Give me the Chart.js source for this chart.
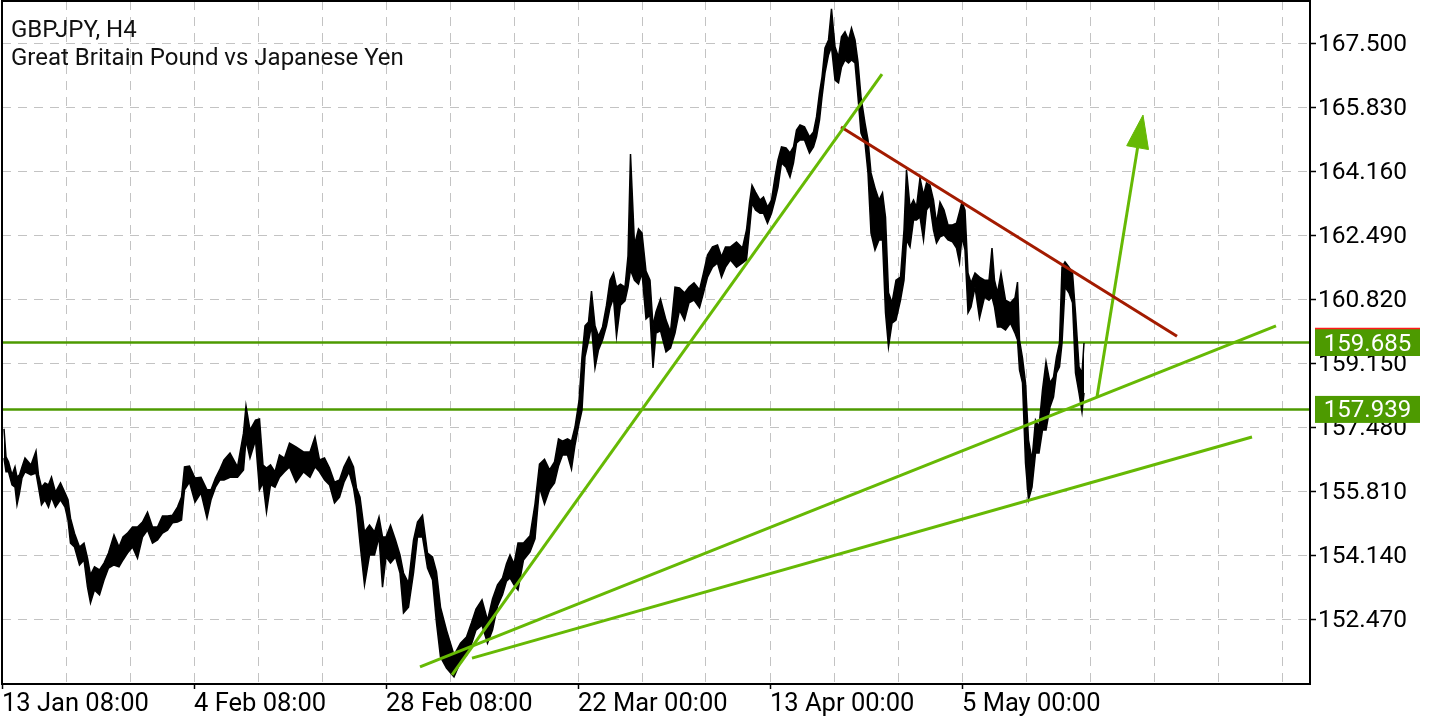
<!DOCTYPE html>
<html>
<head>
<meta charset="utf-8">
<title>GBPJPY, H4</title>
<script src="https://cdn.jsdelivr.net/npm/chart.js@4.4.1/dist/chart.umd.min.js"></script>
<style>
  html, body { margin: 0; padding: 0; background: #fff; }
  #wrap { width: 1440px; height: 720px; }
</style>
</head>
<body>
<div id="wrap"><canvas id="priceChart" width="1440" height="720"></canvas></div>
<script>
// Symbol info shown in the top-left corner
const symbolTitle = 'GBPJPY, H4';
const symbolName = 'Great Britain Pound vs Japanese Yen';

// Time axis: H4 bar number counted from 13 Jan 08:00, and the labelled bars
const labelBars = [0, 96, 192, 288, 384, 480];
const dateLabels = ['13 Jan 08:00', '4 Feb 08:00', '28 Feb 08:00', '22 Mar 00:00', '13 Apr 00:00', '5 May 00:00'];
const lastBar = 654;
const gridStep = 32;

// Price axis
const priceTicks = [152.470, 154.140, 155.810, 157.480, 159.150, 160.820, 162.490, 164.160, 165.830, 167.500];
const priceMin = 150.774;
const priceMax = 168.596;

// Price path: bar number, high and low of each short stretch
const barPos = [
  1, 2, 3.25, 5, 6.5, 7.5, 8.75, 10, 11.5, 14.5,
  17, 18.25, 19.75, 21.5, 23.25, 24.75, 26.75, 29.25, 31.5, 33,
  34.25, 36.25, 38.75, 41, 42.75, 44.25, 46.25, 48.75, 51, 53.25,
  56, 58.5, 60.5, 62.75, 65.25, 67.75, 70.25, 72.75, 75.25, 77.75,
  80.25, 82.75, 85.25, 87.75, 89.75, 91.25, 93.75, 96.5, 99.5, 102.5,
  104.5, 106.75, 109, 111, 114, 117.75, 120.75, 122, 124, 126.75,
  128.75, 130.5, 132.25, 134.25, 136.5, 138.75, 141.25, 143.75, 147, 150.75,
  154, 156.5, 158.75, 161.25, 163.75, 166.25, 168.75, 171, 173.5, 175.75,
  177.25, 179, 181.25, 183.75, 186.25, 188.5, 190.25, 192, 194.25, 196.75,
  199, 200.75, 203.25, 205.75, 207.75, 210.25, 212.75, 215.25, 217.25, 219.25,
  222.25, 226, 229.25, 232.25, 234.75, 237, 240, 242.75, 245.25, 247.75,
  250.25, 252.25, 254, 256, 258, 260.75, 264, 266.5, 268.75, 271.25,
  273.75, 276.25, 278.25, 280.25, 282.75, 284.75, 286.5, 288.5, 290, 291.5,
  293.25, 294.75, 296.5, 298.25, 300.25, 302.25, 304, 305.75, 307.25, 309.25,
  311.5, 313, 314.25, 316.25, 318.25, 320, 322, 324, 325.5, 327,
  329.25, 332, 334.25, 336.5, 338.75, 341.25, 343.5, 346, 348.75, 350.75,
  352.75, 355.25, 357.75, 359.75, 361.75, 364.25, 367.25, 370.25, 372.25, 373.75,
  375, 376.75, 379, 380.75, 382.75, 384.75, 386.5, 388, 389.75, 392,
  394, 395.75, 397.25, 399, 401.25, 403.75, 405.75, 407.25, 408.75, 410,
  411.5, 413.25, 414.75, 416.5, 418.25, 419.75, 421.5, 423.25, 424.75, 426.5,
  428, 429.5, 431.5, 433, 434.5, 436.5, 438.5, 440.25, 441.75, 443.25,
  445, 447, 449.25, 451, 452.25, 454, 455.75, 457.25, 459, 460.75,
  462.25, 464, 465.75, 467.25, 469, 471, 473, 475.25, 477.25, 478.75,
  480, 481.5, 483, 484.5, 486.5, 488.75, 491.25, 493.5, 495, 496.25,
  497.75, 499.5, 501.75, 504.25, 506.5, 507.75, 508.75, 510.25, 511.75, 513.25,
  515, 516.75, 518.5, 520.25, 522, 524, 525.75, 527.25, 528.75, 530,
  531.5, 533.5, 535.25, 536.75, 538.5, 540, 541
];
const highs = [
  157.43, 156.70, 156.57, 156.23, 156.44, 156.17, 156.23, 156.44, 156.67, 156.49,
  156.85, 156.23, 155.91, 156.02, 155.97, 156.17, 155.78, 156.02, 155.76, 155.58,
  155.10, 154.71, 154.35, 154.45, 154.06, 153.62, 153.83, 153.75, 153.93, 154.19,
  154.66, 154.35, 154.61, 154.71, 154.87, 154.87, 155.00, 155.26, 154.87, 154.87,
  155.16, 155.16, 155.18, 155.39, 155.65, 156.44, 156.46, 156.15, 156.17, 155.84,
  155.84, 156.15, 156.38, 156.62, 156.80, 156.44, 157.32, 158.03, 157.40, 157.66,
  157.69, 156.49, 156.41, 156.49, 156.31, 156.75, 156.67, 157.06, 156.96, 156.83,
  156.83, 157.22, 156.62, 156.67, 156.41, 156.04, 156.10, 156.44, 156.70, 156.44,
  155.89, 155.65, 154.74, 154.92, 154.74, 155.13, 154.61, 154.61, 154.92, 154.53,
  154.14, 153.67, 153.41, 154.53, 155.00, 155.18, 154.19, 154.09, 153.70, 152.78,
  152.18, 151.53, 151.84, 152.00, 152.37, 152.73, 152.97, 152.44, 152.99, 153.36,
  153.54, 153.91, 154.14, 153.91, 154.45, 154.45, 154.64, 155.47, 156.51, 156.64,
  156.36, 156.57, 157.17, 157.11, 157.17, 157.11, 157.48, 158.16, 159.31, 160.12,
  160.22, 161.03, 160.12, 159.85, 160.09, 160.66, 161.31, 161.50, 161.13, 161.21,
  161.13, 161.94, 164.60, 162.23, 162.65, 162.54, 161.55, 161.31, 160.12, 160.48,
  160.82, 160.27, 159.96, 161.13, 161.11, 160.98, 161.13, 161.24, 161.06, 161.50,
  161.97, 162.18, 162.23, 161.92, 162.18, 162.18, 162.31, 162.15, 162.62, 163.32,
  163.79, 163.61, 163.40, 163.48, 163.22, 163.40, 164.00, 164.45, 164.79, 164.76,
  164.63, 164.79, 165.23, 165.36, 165.31, 165.05, 165.18, 165.57, 166.20, 166.61,
  167.37, 167.58, 168.39, 167.40, 167.13, 167.66, 167.79, 167.58, 167.89, 167.58,
  167.00, 166.09, 165.41, 164.97, 164.11, 163.72, 163.40, 163.59, 162.96, 160.98,
  160.72, 161.31, 161.39, 162.62, 164.19, 163.22, 163.40, 163.22, 163.98, 163.53,
  163.85, 163.79, 163.40, 162.80, 163.35, 163.14, 162.75, 162.75, 162.80, 163.09,
  163.35, 163.14, 161.50, 161.24, 161.50, 161.39, 161.31, 161.31, 162.15, 161.31,
  160.98, 161.50, 160.79, 160.72, 160.85, 161.26, 159.75, 159.28, 158.63, 157.14,
  156.62, 157.66, 157.48, 158.45, 159.18, 158.63, 158.78, 159.31, 159.67, 161.65,
  161.79, 161.65, 161.50, 160.46, 159.05, 158.89, 159.67
];
const lows = [
  156.67, 156.31, 156.31, 155.97, 155.91, 155.45, 155.76, 156.15, 156.31, 156.23,
  156.28, 155.91, 155.45, 155.58, 155.39, 155.65, 155.39, 155.58, 155.39, 155.05,
  154.45, 154.35, 153.88, 154.01, 153.30, 152.89, 153.23, 153.10, 153.49, 153.80,
  153.88, 153.83, 154.01, 154.19, 154.35, 154.06, 154.61, 154.79, 154.45, 154.53,
  154.71, 154.79, 154.98, 155.00, 155.05, 155.84, 156.04, 155.52, 155.76, 155.10,
  155.58, 155.91, 156.10, 156.10, 156.17, 156.17, 156.36, 157.14, 156.67, 157.14,
  155.84, 156.02, 155.26, 155.97, 155.91, 156.17, 156.31, 156.44, 156.04, 156.31,
  156.17, 156.44, 156.31, 156.10, 155.97, 155.50, 155.65, 156.04, 156.31, 155.89,
  155.39, 154.45, 153.36, 154.14, 154.14, 154.61, 153.30, 154.09, 153.93, 154.09,
  153.67, 152.63, 152.78, 153.67, 154.61, 154.61, 153.80, 153.49, 152.37, 151.48,
  151.19, 150.96, 151.35, 151.53, 151.82, 152.18, 152.31, 151.84, 152.18, 152.81,
  153.10, 153.46, 153.54, 153.36, 153.23, 154.01, 154.22, 154.56, 155.91, 155.47,
  155.84, 156.02, 156.46, 156.75, 156.75, 156.38, 157.01, 157.56, 157.92, 159.31,
  159.72, 160.12, 159.02, 159.49, 159.75, 160.12, 160.59, 160.85, 159.85, 160.66,
  160.77, 161.13, 161.58, 161.31, 161.21, 161.50, 160.30, 160.40, 159.02, 159.93,
  159.99, 159.44, 159.54, 159.93, 160.53, 160.27, 160.72, 160.79, 160.59, 160.98,
  161.39, 161.65, 161.76, 161.39, 161.65, 161.84, 161.65, 161.76, 161.84, 162.62,
  163.32, 163.14, 163.06, 163.06, 162.80, 163.06, 163.40, 163.74, 164.37, 164.26,
  164.00, 164.37, 164.89, 164.97, 164.97, 164.63, 164.79, 165.05, 165.49, 166.09,
  166.72, 167.19, 167.40, 166.53, 166.46, 166.87, 167.06, 166.98, 167.06, 166.98,
  166.09, 165.15, 164.89, 164.11, 162.54, 162.10, 162.36, 162.36, 160.46, 159.57,
  160.19, 160.27, 160.79, 161.31, 162.36, 162.18, 162.88, 162.88, 162.96, 162.36,
  163.14, 163.27, 162.62, 162.28, 162.44, 162.49, 162.36, 162.31, 162.15, 161.76,
  162.44, 162.10, 160.46, 160.61, 161.13, 160.32, 160.87, 160.79, 160.87, 160.61,
  160.09, 160.09, 160.01, 160.19, 159.93, 159.75, 158.97, 158.63, 156.54, 155.58,
  155.91, 156.80, 156.80, 157.40, 157.40, 158.00, 158.26, 158.89, 159.05, 159.67,
  161.13, 160.98, 160.72, 158.89, 158.37, 157.87, 158.37
];

// Horizontal levels with their price boxes, and the ask mark
const levelPrices = [159.685, 157.939];
const askPrice = 160.06;

// Drawn lines as [bar, price] end points
const steepTrend = [[225, 151.01], [440, 166.69]];
const upperTrend = [[209, 151.22], [637, 160.12]];
const lowerTrend = [[235, 151.45], [625, 157.22]];
const resistance = [[419.5, 165.31], [587.5, 159.85]];
const arrowShaft = [[547.5, 158.26], [567.8, 164.77]];
const arrowHead = [[570.5, 165.62], [573.25, 164.72], [562.35, 164.82], [570.5, 165.62]];

const levelColor = '#4d9a00';
const trendColor = '#66b904';
const resistColor = '#a31b00';
const gridColor = '#c3c3c3';

// turn [bar, price] pairs into chart points
function toPoints(pairs) {
    return pairs.map(p => ({ x: p[0], y: p[1] }));
}

function lineSet(pairs, color, width, order) {
    return {
        data: toPoints(pairs),
        borderColor: color,
        borderWidth: width,
        pointRadius: 0,
        fill: false,
        tension: 0,
        order: order
    };
}

// Draw the plot frame, title, price boxes and ask mark
const overlayPlugin = {
    id: 'overlay',
    afterDraw(chart) {
        const ctx = chart.ctx;
        const area = chart.chartArea;
        const yScale = chart.scales.y;
        ctx.save();

        ctx.strokeStyle = '#000';
        ctx.lineWidth = 2;
        ctx.strokeRect(area.left, area.top, area.right - area.left, area.bottom - area.top);

        ctx.fillStyle = '#111';
        ctx.font = '24px Roboto';
        ctx.textAlign = 'left';
        ctx.textBaseline = 'alphabetic';
        ctx.fillText(symbolTitle, 11, 37);
        ctx.fillText(symbolName, 11, 65);

        // price boxes on the axis
        ctx.font = '24px Roboto';
        ctx.textAlign = 'center';
        ctx.textBaseline = 'middle';
        levelPrices.forEach(price => {
            const py = yScale.getPixelForValue(price);
            ctx.fillStyle = levelColor;
            ctx.fillRect(area.right + 5, py - 13.5, 105, 27);
            ctx.fillStyle = '#fff';
            ctx.fillText(price.toFixed(3), area.right + 57.5, py + 2);
        });

        const askY = Math.round(yScale.getPixelForValue(askPrice)) + 0.5;
        ctx.strokeStyle = '#ff1a1a';
        ctx.lineWidth = 1.5;
        ctx.beginPath();
        ctx.moveTo(area.right + 5, askY);
        ctx.lineTo(area.right + 110, askY);
        ctx.stroke();

        ctx.restore();
    }
};

const ctx = document.getElementById('priceChart').getContext('2d');

new Chart(ctx, {
    type: 'line',
    data: {
        datasets: [
            lineSet(steepTrend, trendColor, 3, 0),
            lineSet(upperTrend, trendColor, 3, 0),
            lineSet(lowerTrend, trendColor, 3, 0),
            lineSet(resistance, resistColor, 3, 0),
            lineSet(arrowShaft, trendColor, 3, 0),
            Object.assign(lineSet(arrowHead, trendColor, 1, 0), { fill: 'shape', backgroundColor: trendColor }),
            {
                data: barPos.map((b, i) => ({ x: b, y: lows[i] })),
                borderColor: '#000',
                borderWidth: 1.5,
                pointRadius: 0,
                fill: false,
                tension: 0,
                order: 1
            },
            {
                data: barPos.map((b, i) => ({ x: b, y: highs[i] })),
                borderColor: '#000',
                borderWidth: 1.5,
                backgroundColor: '#000',
                pointRadius: 0,
                fill: '-1',
                tension: 0,
                order: 1
            },
            lineSet([[0, levelPrices[0]], [lastBar, levelPrices[0]]], levelColor, 2.5, 2),
            lineSet([[0, levelPrices[1]], [lastBar, levelPrices[1]]], levelColor, 2.5, 2)
        ]
    },
    options: {
        responsive: false,
        animation: false,
        events: [],
        layout: { padding: { left: 2, top: 1, right: 0, bottom: 0 } },
        plugins: {
            legend: { display: false },
            tooltip: { enabled: false }
        },
        scales: {
            x: {
                type: 'linear',
                position: 'bottom',
                min: 0,
                max: lastBar,
                afterBuildTicks: (scale) => {
                    const ticks = [];
                    for (let b = 0; b <= lastBar; b += gridStep) ticks.push({ value: b });
                    scale.ticks = ticks;
                },
                afterFit: (scale) => {
                    scale.height = 36;
                    scale.paddingLeft = 0;
                    scale.paddingRight = 0;
                },
                border: { display: false, dash: [9, 7] },
                grid: {
                    color: gridColor,
                    lineWidth: 1,
                    tickLength: 5,
                    tickWidth: 1.5,
                    tickColor: (c) => (c.tick && labelBars.includes(c.tick.value)) ? '#000' : 'rgba(0,0,0,0)'
                },
                ticks: {
                    autoSkip: false,
                    maxRotation: 0,
                    align: 'start',
                    padding: 0,
                    color: '#000',
                    font: { family: 'Roboto', size: 25.5 },
                    callback: (value) => {
                        const i = labelBars.indexOf(value);
                        return i >= 0 ? dateLabels[i] : '';
                    }
                }
            },
            y: {
                type: 'linear',
                position: 'right',
                min: priceMin,
                max: priceMax,
                afterBuildTicks: (scale) => {
                    scale.ticks = priceTicks.map(v => ({ value: v }));
                },
                afterFit: (scale) => {
                    scale.width = 130;
                    scale.paddingTop = 0;
                    scale.paddingBottom = 0;
                },
                border: { display: false, dash: [9, 7] },
                grid: {
                    color: gridColor,
                    lineWidth: 1,
                    tickLength: 6,
                    tickWidth: 1.5,
                    tickColor: '#000'
                },
                ticks: {
                    padding: 2,
                    labelOffset: 2,
                    color: '#000',
                    font: { family: 'Roboto', size: 24.5 },
                    callback: (value) => Number(value).toFixed(3)
                }
            }
        }
    },
    plugins: [overlayPlugin]
});
</script>
</body>
</html>
